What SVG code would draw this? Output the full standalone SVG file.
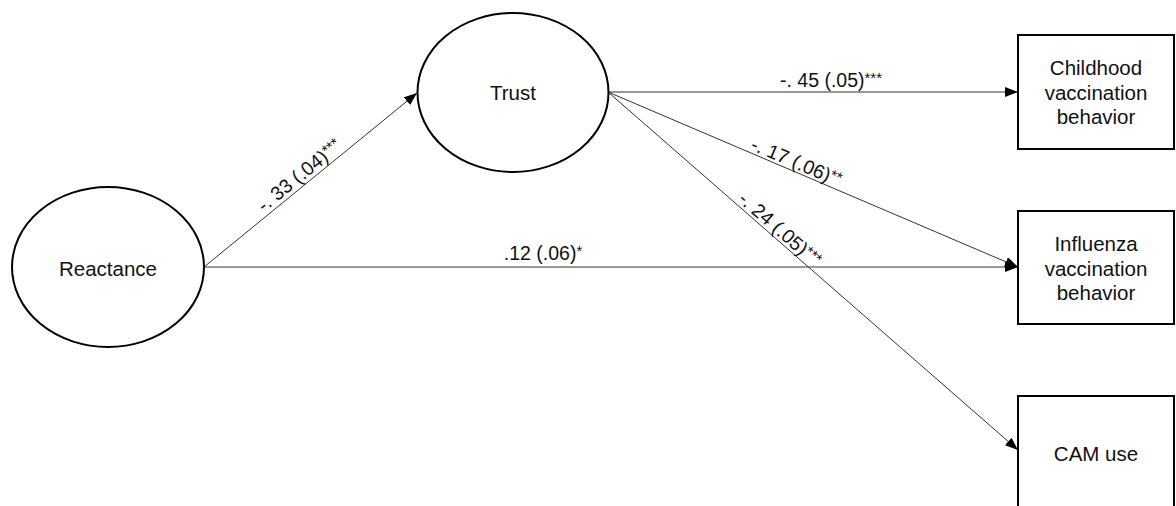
<svg xmlns="http://www.w3.org/2000/svg" width="1176" height="506" viewBox="0 0 1176 506">
  <style>
    .node { fill: #ffffff; stroke: #000000; stroke-width: 2; }
    .ntext { font-family: "Liberation Sans", Arial, sans-serif; font-size: 20.5px; fill: #111111; text-anchor: middle; }
    .edge { stroke: #333333; stroke-width: 1; fill: none; marker-end: url(#arrow); }
    .elabel { font-family: "Liberation Sans", Arial, sans-serif; font-size: 19.5px; fill: #111111; text-anchor: middle; }
    .sup { font-size: 15px; }
  </style>
  <defs>
    <marker id="arrow" markerUnits="userSpaceOnUse" markerWidth="14" markerHeight="12" refX="13" refY="5" orient="auto">
      <path d="M0,0 L13,5 L0,10 z" fill="#000000"/>
    </marker>
  </defs>
  <rect width="1176" height="506" fill="#ffffff"/>

  <g id="connectors">
    <line class="edge" x1="204" y1="267" x2="417" y2="93"/>
    <line class="edge" x1="204" y1="267" x2="1018" y2="267"/>
    <line class="edge" x1="608" y1="92" x2="1018" y2="92"/>
    <line class="edge" x1="608" y1="92" x2="1018" y2="267"/>
    <line class="edge" x1="608" y1="92" x2="1018" y2="450"/>
    <text class="elabel" transform="translate(306,183.5) rotate(-39.2)" y="-4">-. 33 (.04)<tspan class="sup" dy="-4">***</tspan></text>
    <text class="elabel" x="543" y="260">.12 (.06)<tspan class="sup" dy="-4">*</tspan></text>
    <text class="elabel" x="831" y="87">-. 45 (.05)<tspan class="sup" dy="-4">***</tspan></text>
    <text class="elabel" transform="translate(792.6,170.8) rotate(23.1)" y="-3">-. 17 (.06)<tspan class="sup" dy="-4">**</tspan></text>
    <text class="elabel" transform="translate(773.7,236.6) rotate(41.1)" y="-3">-. 24 (.05)<tspan class="sup" dy="-4">***</tspan></text>
  </g>

  <g id="reactance">
    <ellipse class="node" cx="108" cy="267" rx="96" ry="80"/>
    <text class="ntext" x="108" y="276">Reactance</text>
  </g>

  <g id="trust">
    <ellipse class="node" cx="513" cy="92.5" rx="95.5" ry="79.5"/>
    <text class="ntext" x="513" y="100">Trust</text>
  </g>

  <g id="childhood">
    <rect class="node" x="1018" y="35" width="156" height="114"/>
    <text class="ntext" x="1096" y="75">Childhood</text>
    <text class="ntext" x="1096" y="100">vaccination</text>
    <text class="ntext" x="1096" y="124">behavior</text>
  </g>

  <g id="influenza">
    <rect class="node" x="1018" y="211" width="156" height="113"/>
    <text class="ntext" x="1096" y="251">Influenza</text>
    <text class="ntext" x="1096" y="275.5">vaccination</text>
    <text class="ntext" x="1096" y="300">behavior</text>
  </g>

  <g id="cam">
    <rect class="node" x="1018" y="396" width="156" height="114"/>
    <text class="ntext" x="1096" y="461">CAM use</text>
  </g>
</svg>
